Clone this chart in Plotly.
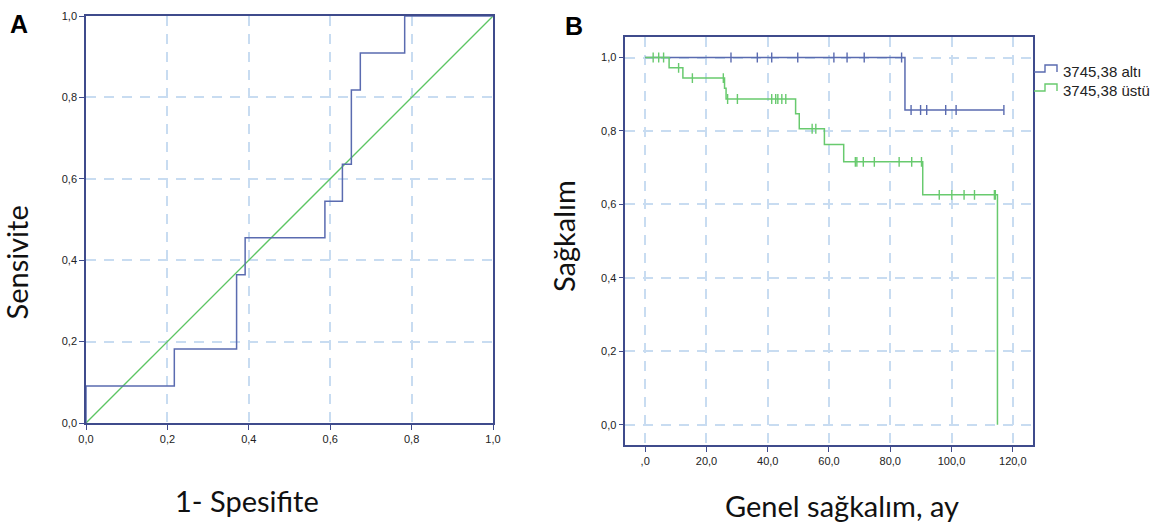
import numpy as np
import plotly.graph_objects as go

# ---------------- data ----------------
# Panel A: ROC curve (1 - specificity, sensitivity)
roc_fpr = [0.0, 0.0, 0.217, 0.370, 0.391, 0.587, 0.630, 0.652, 0.674, 0.783, 1.0]
roc_tpr = [0.0, 0.0909, 0.182, 0.364, 0.455, 0.545, 0.636, 0.818, 0.909, 1.0, 1.0]
ref_line = [0.0, 1.0]

# Panel B: Kaplan-Meier curves (months, survival)
group_names = ["3745,38 altı", "3745,38 üstü"]

low_times = [0.0, 84.8, 117.1]
low_surv = [1.0, 0.857, 0.857]
low_censor = [28.0, 36.6, 41.3, 49.8, 61.6, 65.9, 71.5, 83.7,
              86.8, 89.9, 91.9, 98.1, 101.5, 117.1]

high_times = [0.0, 7.8, 12.3, 25.9, 26.4, 49.1, 50.3, 58.5, 64.8, 90.6, 115.0, 115.0]
high_surv = [1.0, 0.972, 0.944, 0.916, 0.887, 0.847, 0.806, 0.763, 0.716, 0.626, 0.626, 0.0]
high_censor = [2.6, 4.4, 6.0, 10.9, 15.4, 25.5, 26.9, 30.1, 41.3, 42.6, 43.3,
               44.6, 45.9, 54.5, 55.7, 68.6, 69.1, 71.2, 74.8, 82.9, 87.0,
               90.2, 96.0, 100.1, 104.1, 107.5, 114.0, 114.3]

a_ticks = [0.0, 0.2, 0.4, 0.6, 0.8, 1.0]
a_ticktext = ["0,0", "0,2", "0,4", "0,6", "0,8", "1,0"]
b_xticks = [0, 20, 40, 60, 80, 100, 120]
b_xticktext = [",0", "20,0", "40,0", "60,0", "80,0", "100,0", "120,0"]
b_yticks = [0.0, 0.2, 0.4, 0.6, 0.8, 1.0]
b_yticktext = ["0,0", "0,2", "0,4", "0,6", "0,8", "1,0"]

# ---------------- style ----------------
W, H = 1167, 525
FRAME = "#3f4b8c"
BLUE = "#5a6bb0"
GREEN = "#5cc563"
KM_GREEN = "#68ca6e"
GRID = "#c8dcf1"
TICKFONT = dict(family="Liberation Sans, Arial, sans-serif", size=11, color="#222222")
TITLEFONT = dict(family="Lato, sans-serif", size=29, color="#111111")


def px(x):
    return x / W


def py(y):
    return 1 - y / H


def surv_at(times, surv, t):
    """Value of a right-continuous step function at time t."""
    t_arr = np.asarray(times)
    idx = np.searchsorted(t_arr, t, side="right") - 1
    return [surv[i] for i in np.atleast_1d(idx)]


fig = go.Figure()

# ROC panel
fig.add_trace(go.Scatter(x=ref_line, y=ref_line, mode="lines",
                         line=dict(color=GREEN, width=1.3),
                         xaxis="x", yaxis="y", hoverinfo="skip"))
fig.add_trace(go.Scatter(x=roc_fpr, y=roc_tpr, mode="lines",
                         line=dict(color=BLUE, width=1.5, shape="hv"),
                         xaxis="x", yaxis="y"))

# Survival panel
for times, surv, cens, color in [(low_times, low_surv, low_censor, BLUE),
                                 (high_times, high_surv, high_censor, KM_GREEN)]:
    fig.add_trace(go.Scatter(x=times, y=surv, mode="lines",
                             line=dict(color=color, width=1.5, shape="hv"),
                             xaxis="x2", yaxis="y2"))
    fig.add_trace(go.Scatter(x=cens, y=surv_at(times, surv, cens), mode="markers",
                             marker=dict(symbol="line-ns", size=7,
                                         line=dict(color=color, width=1.4)),
                             xaxis="x2", yaxis="y2"))

axis_common = dict(
    showline=True, mirror=True, linecolor=FRAME, linewidth=1.5,
    ticks="outside", ticklen=5, tickwidth=1.2, tickcolor=FRAME,
    showgrid=True, gridcolor=GRID, gridwidth=1.5, griddash="10px,8px",
    zeroline=False, tickfont=TICKFONT, fixedrange=True, automargin=False,
)

fig.update_layout(
    width=W, height=H,
    margin=dict(l=0, r=0, t=0, b=0, autoexpand=False),
    paper_bgcolor="white", plot_bgcolor="white",
    showlegend=False,
    xaxis=dict(domain=[px(86), px(493)], range=[0, 1], anchor="y",
               tickvals=a_ticks, ticktext=a_ticktext, **axis_common),
    yaxis=dict(domain=[py(423), py(16)], range=[0, 1], anchor="x",
               tickvals=a_ticks, ticktext=a_ticktext, **axis_common),
    xaxis2=dict(domain=[px(625.3), px(1033.3)], range=[-6.5, 126.7], anchor="y2",
                tickvals=b_xticks, ticktext=b_xticktext, **axis_common),
    yaxis2=dict(domain=[py(445), py(37.3)], range=[-0.055, 1.055], anchor="x2",
                tickvals=b_yticks, ticktext=b_yticktext, **axis_common),
)

# Panel letters and axis titles
ann = [
    dict(text="<b>A</b>", x=px(19), y=py(24), font=dict(family="Liberation Sans, Arial", size=25, color="#000")),
    dict(text="<b>B</b>", x=px(573.5), y=py(25.5), font=dict(family="Liberation Sans, Arial", size=25, color="#000")),
    dict(text="1- Spesifite", x=px(247.5), y=py(500), font=TITLEFONT),
    dict(text="Genel sağkalım, ay", x=px(841.5), y=py(505), font=TITLEFONT),
    dict(text="Sensivite", x=px(16), y=py(262.5), font=TITLEFONT, textangle=-90),
    dict(text="Sağkalım", x=px(563), y=py(236), font=TITLEFONT, textangle=-90),
]
for a in ann:
    fig.add_annotation(xref="paper", yref="paper", xanchor="center", yanchor="middle",
                       showarrow=False, **a)

# Step-shaped legend keys with group labels
legend_rows = [(72.0, BLUE), (91.0, KM_GREEN)]
for (ybase, color), name in zip(legend_rows, group_names):
    ytop = ybase - 7
    path = (f"M {px(1034)},{py(ybase)} L {px(1045)},{py(ybase)} L {px(1045)},{py(ytop)} "
            f"L {px(1057)},{py(ytop)} L {px(1057)},{py(ybase)}")
    fig.add_shape(type="path", xref="paper", yref="paper", path=path,
                  line=dict(color=color, width=1.4))
    fig.add_annotation(xref="paper", yref="paper", x=px(1061), y=py(ybase - 0.5),
                       xanchor="left", yanchor="middle", showarrow=False, text=name,
                       font=dict(family="Liberation Sans, Arial", size=15, color="#222222"))

fig.write_html("out.html")
